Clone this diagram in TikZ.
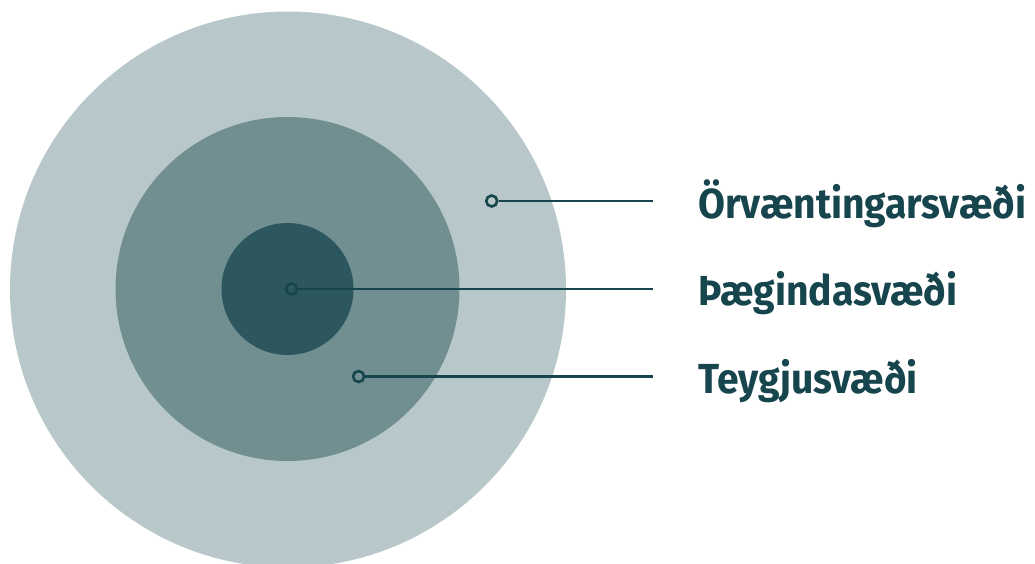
\documentclass[tikz,border=0pt]{standalone}
\usepackage{fontspec}
\setmainfont{Fira Sans}[UprightFont=* Bold, FakeStretch=0.93]
\definecolor{ringout}{HTML}{B8C8CA}
\definecolor{ringmid}{HTML}{718E90}
\definecolor{ringin}{HTML}{2C575E}
\definecolor{ink}{HTML}{17454D}
\tikzset{
  ring/.style={circle, inner sep=0pt, minimum size=#1, draw=none},
  pin/.style={circle, inner sep=0pt, minimum size=11pt, draw=ink, line width=2.6pt},
  lead/.style={draw=ink, line width=2.8pt},
  lbl/.style={anchor=base west, inner sep=0pt, text=ink, font=\fontsize{42}{42}\selectfont},
}
\begin{document}
\begin{tikzpicture}[x=1pt,y=-1pt]
\useasboundingbox (0,0) rectangle (1035,563);
\clip (0,0) rectangle (1035,563);
\fill[white] (0,0) rectangle (1035,563);
\node[ring=556pt, fill=ringout] (outer) at (288,289.5) {};
\node[ring=344pt, fill=ringmid] (middle) at (287.5,289) {};
\node[ring=132pt, fill=ringin] (inner) at (287.5,289) {};
\coordinate (e1) at (653,201);
\coordinate (e2) at (653,289);
\coordinate (e3) at (653,376.5);
\node[pin] (p1) at (491.7,201) {};
\node[pin] (p2) at (291.6,289) {};
\node[pin] (p3) at (358.6,376.5) {};
\draw[lead] (p1.east) -- (e1);
\draw[lead] (p2.east) -- (e2);
\draw[lead] (p3.east) -- (e3);
\node[lbl] (l1) at (698,218) {Örvæntingarsvæði};
\node[lbl] (l2) at (698,305.5) {Þægindasvæði};
\node[lbl] (l3) at (698,393) {Teygjusvæði};
\end{tikzpicture}
\end{document}
